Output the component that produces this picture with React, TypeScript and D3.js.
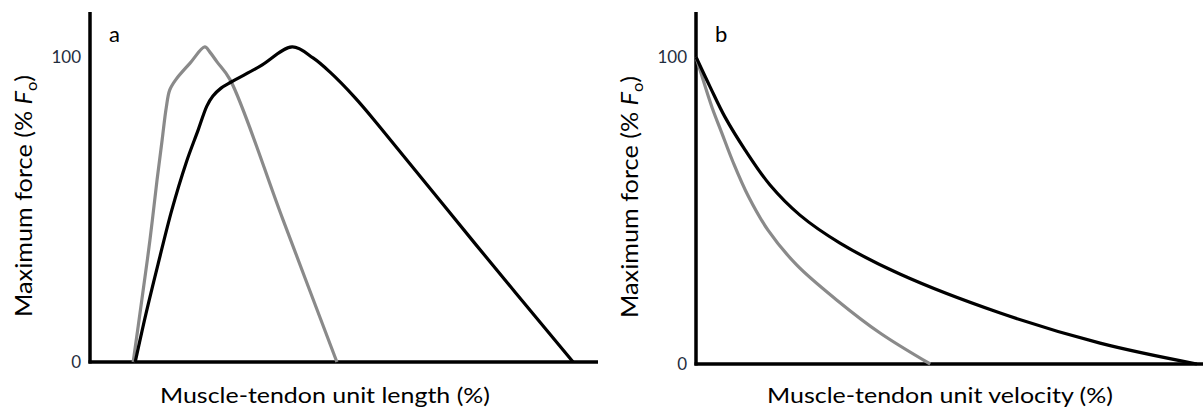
import React from "react";
import * as d3 from "d3";

// panel a: force-length (x = % of axis length, y = % Fo)
const lengthBlackX = [8.9, 11.0, 13.4, 16.1, 18.9, 21.3, 23.0, 24.2, 25.8, 27.8, 33.5, 39.8, 43.9, 47.2, 52.2, 57.1, 76.0, 95.1];
const lengthBlackY = [0, 15.7, 32.1, 49.8, 65.2, 76.1, 83.9, 87.2, 89.8, 91.8, 97.0, 103.3, 99.7, 95.1, 86.6, 77.0, 38.4, 0];
const lengthGrayX = [8.5, 10.2, 11.8, 13.2, 14.2, 15.0, 15.7, 16.9, 19.7, 22.6, 23.6, 25.0, 27.6, 38.0, 48.6];
const lengthGrayY = [0, 20.3, 40.0, 59.7, 72.8, 83.3, 89.2, 92.6, 98.0, 103.3, 101.6, 98.4, 92.5, 46.6, 0];

// panel b: force-velocity
const velBlackX = [0, 2.8, 5.7, 9.7, 14.6, 20.5, 28.4, 40.2, 60.0, 79.7, 98.8];
const velBlackY = [100, 90.2, 80.5, 69.7, 58.3, 48.5, 39.4, 29.3, 16.6, 6.8, 0];
const velGrayX = [0, 1.6, 3.2, 5.1, 7.3, 10.3, 14.2, 19.9, 27.8, 36.3, 46.2];
const velGrayY = [100, 91.5, 83.4, 75.2, 65.8, 54.7, 43.6, 32.2, 20.8, 10.1, 0];

const yTicks = [0, 100];
const panelLetters = ["a", "b"];
const xTitles = ["Muscle-tendon unit length (%)", "Muscle-tendon unit velocity (%)"];

const zip = (xs: number[], ys: number[]) => xs.map((x, i) => [x, ys[i]] as [number, number]);

const font = "Lato, 'Open Sans', sans-serif";

function Panel({ letter, title, xRange, yRange, black, gray, yTitleX, titleX, titleW }: any) {
  const x = d3.scaleLinear().domain([0, 100]).range(xRange);
  const y = d3.scaleLinear().domain([0, 100]).range(yRange);
  const line = d3
    .line<[number, number]>()
    .x((d) => x(d[0]))
    .y((d) => y(d[1]))
    .curve(d3.curveCatmullRom.alpha(0.5));
  const x0 = x(0);
  const y0 = y(0);
  const midY = (yRange[0] + 12) / 2 + 9;

  return (
    <g>
      <line x1={x0} x2={x0} y1={12} y2={y0 + 1.5} stroke="#000" strokeWidth={3.5} />
      <line x1={x0 - 1.5} x2={xRange[1]} y1={y0} y2={y0} stroke="#000" strokeWidth={3.5} />
      {yTicks.map((t) => (
        <text key={t} x={x0 - 9} y={y(t) + 6} textAnchor="end" fontSize={17} fill="#1f2d3d" fontFamily={font}>
          {t}
        </text>
      ))}
      <text x={x0 + 19} y={42} fontSize={22} fill="#000" fontFamily={font}>
        {letter}
      </text>
      <path d={line(gray) || ""} fill="none" stroke="#8a8a8a" strokeWidth={3.2} strokeLinejoin="round" />
      <path d={line(black) || ""} fill="none" stroke="#000" strokeWidth={3.2} strokeLinejoin="round" />
      <text
        x={titleX}
        y={403}
        fontSize={22}
        fill="#000"
        fontFamily={font}
        textLength={titleW}
        lengthAdjust="spacingAndGlyphs"
      >
        {title}
      </text>
      <text
        transform={`translate(${yTitleX},${midY}) rotate(-90)`}
        textAnchor="middle"
        fontSize={23}
        fill="#000"
        fontFamily={font}
        textLength={242}
        lengthAdjust="spacingAndGlyphs"
      >
        Maximum force (%{" "}
        <tspan fontStyle="italic">F</tspan>
        <tspan fontSize={15} dy={5}>o</tspan>
        <tspan dy={-5}>)</tspan>
      </text>
    </g>
  );
}

export default function App() {
  return (
    <div style={{ position: "absolute", left: 0, top: 0 }}>
      <svg width={1203} height={412} style={{ display: "block", background: "#fff" }}>
        <Panel
          letter={panelLetters[0]}
          title={xTitles[0]}
          xRange={[90, 598]}
          yRange={[362, 57]}
          black={zip(lengthBlackX, lengthBlackY)}
          gray={zip(lengthGrayX, lengthGrayY)}
          yTitleX={32}
          titleX={160}
          titleW={330}
        />
        <Panel
          letter={panelLetters[1]}
          title={xTitles[1]}
          xRange={[696, 1203]}
          yRange={[364, 57]}
          black={zip(velBlackX, velBlackY)}
          gray={zip(velGrayX, velGrayY)}
          yTitleX={638}
          titleX={767}
          titleW={346}
        />
      </svg>
    </div>
  );
}
